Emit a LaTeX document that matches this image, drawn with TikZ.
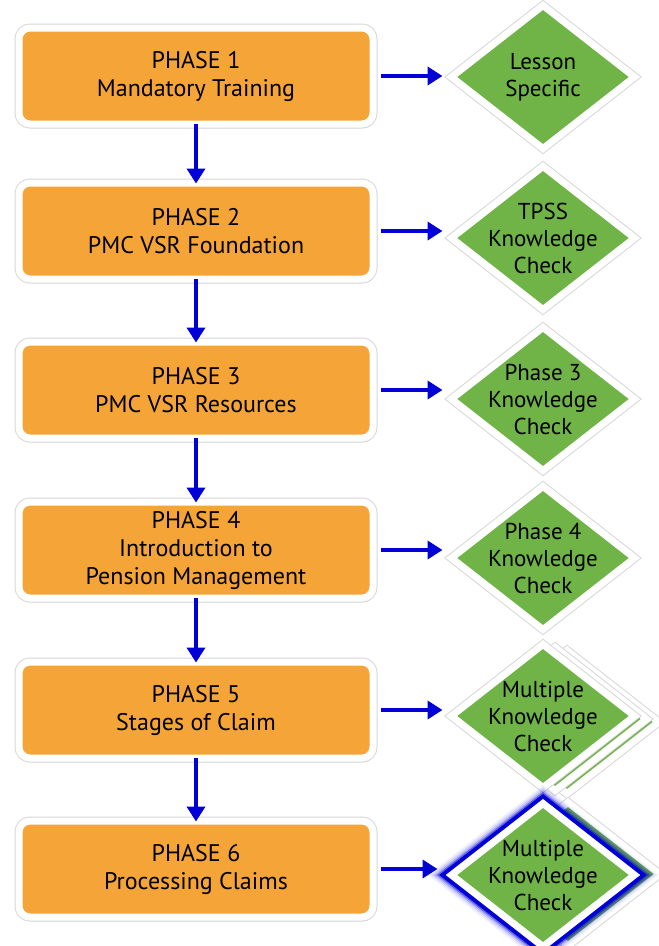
\documentclass[tikz,border=0pt]{standalone}
\usepackage{fontspec}
\setmainfont{PT Sans}
\usetikzlibrary{shapes.geometric,arrows.meta,shadows}
\definecolor{phaseorange}{RGB}{245,165,55}
\definecolor{checkgreen}{RGB}{112,180,72}
\definecolor{arrowblue}{RGB}{0,0,215}
\definecolor{rimgray}{RGB}{215,215,215}
\tikzset{
  phasebox/.style={rectangle, rounded corners=11pt, fill=phaseorange, draw=white, line width=7pt,
    minimum width=354pt, minimum height=96pt, align=center, font=\fontsize{24}{28}\selectfont,
    preaction={draw=rimgray, line width=9pt, drop shadow={shadow xshift=2pt, shadow yshift=-4pt, opacity=0.35}}},
  checkshape/.style={diamond, fill=checkgreen, draw=white, line width=7pt, inner sep=0pt,
    minimum width=186pt, minimum height=146pt,
    preaction={draw=rimgray, line width=9pt}},
  checktext/.style={align=center, font=\fontsize{23}{27}\selectfont},
  flowarrow/.style={draw=arrowblue, line width=4pt, -{Triangle[width=18pt,length=15pt]}},
}
\begin{document}
\begin{tikzpicture}[x=1pt,y=-1pt]
\useasboundingbox[fill=white] (0,0) rectangle (659,946);
% phase boxes
\node[phasebox] (p1) at (196,76) {PHASE 1\\Mandatory Training};
\node[phasebox] (p2) at (196,231) {PHASE 2\\PMC VSR Foundation};
\node[phasebox] (p3) at (196,390) {PHASE 3\\PMC VSR Resources};
\node[phasebox] (p4) at (196,550) {PHASE 4\\Introduction to\\Pension Management};
\node[phasebox] (p5) at (196,710) {PHASE 5\\Stages of Claim};
\node[phasebox] (p6) at (196,869) {PHASE 6\\Processing Claims};
% stacked copies
\node[checkshape] (d5c) at (567,722) {};
\node[checkshape] (d5b) at (555,719) {};
\node[checkshape] (d6b) at (568,874) {};
% diamonds
\node[checkshape, label={[checktext]center:Lesson\\Specific}] (d1) at (543,77) {};
\node[checkshape, label={[checktext]center:TPSS\\Knowledge\\Check}] (d2) at (543,238) {};
\node[checkshape, label={[checktext]center:Phase 3\\Knowledge\\Check}] (d3) at (543,399) {};
\node[checkshape, label={[checktext]center:Phase 4\\Knowledge\\Check}] (d4) at (543,558) {};
\node[checkshape, label={[checktext]center:Multiple\\Knowledge\\Check}] (d5) at (543,716) {};
\node[checkshape,
  preaction={draw=arrowblue, line width=30pt, opacity=0.04},
  preaction={draw=arrowblue, line width=27pt, opacity=0.06},
  preaction={draw=arrowblue, line width=24pt, opacity=0.1},
  preaction={draw=arrowblue, line width=21pt, opacity=0.18},
  preaction={draw=arrowblue, line width=18pt, opacity=0.4},
  preaction={draw=arrowblue, line width=15pt},
  label={[checktext]center:Multiple\\Knowledge\\Check}] (d6) at (543,875) {};
% vertical arrows
\draw[flowarrow] ([yshift=4pt]p1.south) -- ([yshift=-4pt]p2.north);
\draw[flowarrow] ([yshift=4pt]p2.south) -- ([yshift=-4pt]p3.north);
\draw[flowarrow] ([yshift=4pt]p3.south) -- ([yshift=-4pt]p4.north);
\draw[flowarrow] ([yshift=4pt]p4.south) -- ([yshift=-4pt]p5.north);
\draw[flowarrow] ([yshift=4pt]p5.south) -- ([yshift=-4pt]p6.north);
% horizontal arrows
\draw[flowarrow] ([xshift=4pt]p1.east) -- ([xshift=-4pt]d1.west |- p1.east);
\draw[flowarrow] ([xshift=4pt]p2.east) -- ([xshift=-4pt]d2.west |- p2.east);
\draw[flowarrow] ([xshift=4pt]p3.east) -- ([xshift=-4pt]d3.west |- p3.east);
\draw[flowarrow] ([xshift=4pt]p4.east) -- ([xshift=-4pt]d4.west |- p4.east);
\draw[flowarrow] ([xshift=4pt]p5.east) -- ([xshift=-4pt]d5.west |- p5.east);
\draw[flowarrow] ([xshift=4pt]p6.east) -- ([xshift=-9pt]d6.west |- p6.east);
\end{tikzpicture}
\end{document}
